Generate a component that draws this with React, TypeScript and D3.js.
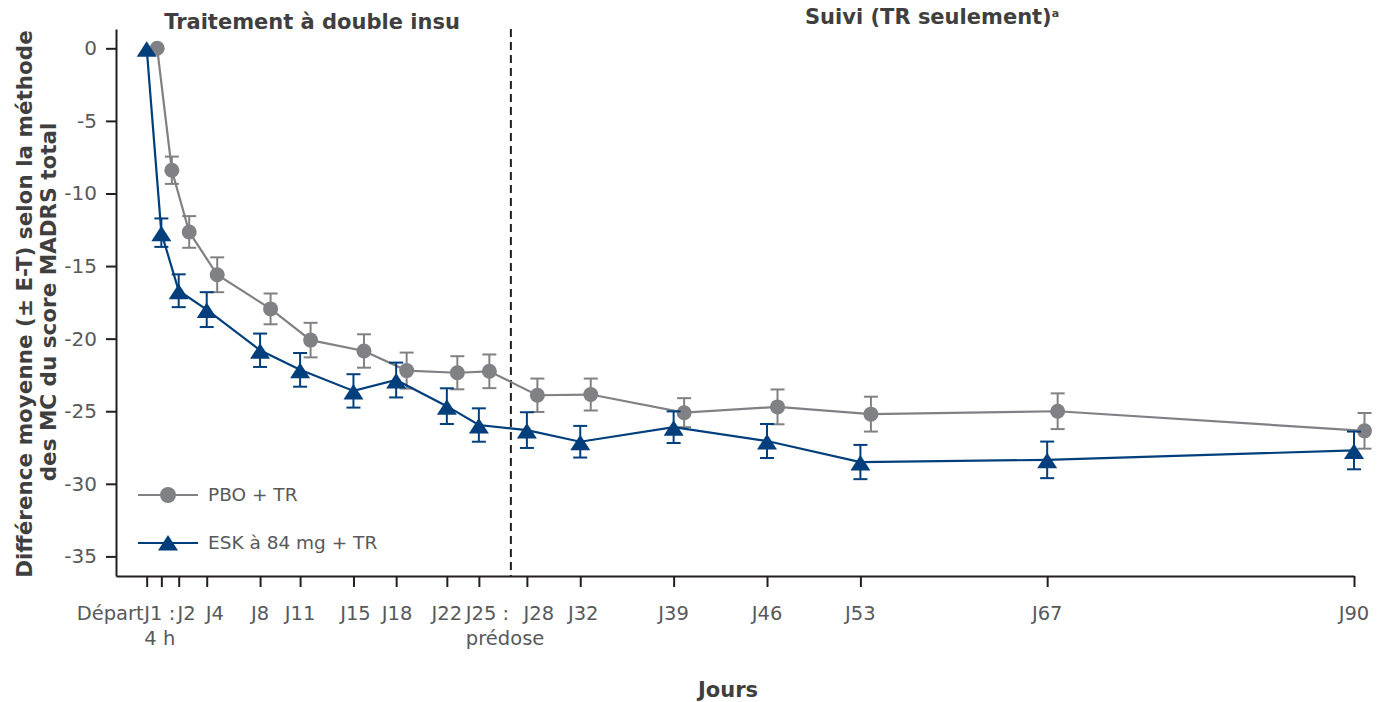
import React, { useEffect, useRef } from "react";
import * as d3 from "d3";

const visits = [
	"Départ",
	"J1 : 4 h",
	"J2",
	"J4",
	"J8",
	"J11",
	"J15",
	"J18",
	"J22",
	"J25 : prédose",
	"J28",
	"J32",
	"J39",
	"J46",
	"J53",
	"J67",
	"J90",
];
// where each visit sits on the day axis
const visitDays = [-0.5, 0.6, 1.9, 4, 8, 11, 15, 18.2, 22, 24.4, 28, 32, 39, 46, 53, 67, 90];

const pboMean = [0, -8.4, -12.65, -15.6, -17.95, -20.1, -20.85, -22.2, -22.35, -22.25, -23.9, -23.85, -25.1, -24.7, -25.2, -25.0, -26.35];
const pboSE = [0, 0.94, 1.09, 1.2, 1.06, 1.19, 1.15, 1.24, 1.14, 1.16, 1.15, 1.1, 1.0, 1.2, 1.2, 1.23, 1.23];
const eskMean = [0, -12.7, -16.7, -18.0, -20.8, -22.15, -23.6, -22.85, -24.65, -25.95, -26.3, -27.1, -26.1, -27.05, -28.5, -28.35, -27.7];
const eskSE = [0, 0.98, 1.13, 1.2, 1.15, 1.16, 1.15, 1.2, 1.23, 1.15, 1.23, 1.09, 1.09, 1.17, 1.18, 1.26, 1.3];

const yTicks = [0, -5, -10, -15, -20, -25, -30, -35];
const followUpStart = 26.8;

const seriesNames = ["PBO + TR", "ESK à 84 mg + TR"];

const GREY = "#808184";
const BLUE = "#003f7c";
const AXIS = "#231f20";
const TICK_TEXT = "#58595b";
const TITLE_TEXT = "#3f3f3f";
const FONT = "'DejaVu Sans', Verdana, sans-serif";

// manual nudges for the crowded x labels
const labelLayout: Record<string, { anchor?: string; dx: number }> = {
	Départ: { anchor: "end", dx: -3 },
	"J1 : 4 h": { anchor: "start", dx: -17 },
	J2: { dx: 8 },
	J4: { dx: 8 },
	J15: { dx: 2 },
	J18: { dx: 1 },
	"J25 : prédose": { anchor: "start", dx: -13 },
	J28: { dx: 12 },
	J32: { dx: 3 },
};

const trianglePath = "M0,-7L10,8.5L-10,8.5Z";

const App = () => {
	const svgRef = useRef<SVGSVGElement>(null);

	useEffect(() => {
		const svg = d3.select(svgRef.current);
		svg.selectAll("*").remove();

		const x = d3.scaleLinear().domain([-2.8, 90]).range([116, 1354]);
		const y = d3.scaleLinear().domain([1.33, -36.35]).range([29, 576]);
		const pboShift = 10.5;

		const rows = visits.map((label, i) => ({
			label,
			day: visitDays[i],
			pbo: pboMean[i],
			pboSe: pboSE[i],
			esk: eskMean[i],
			eskSe: eskSE[i],
		}));

		// y axis
		const yAxis = svg
			.append("g")
			.attr("transform", "translate(116,0)")
			.call(
				d3
					.axisLeft(y)
					.tickValues(yTicks)
					.tickSize(10)
					.tickSizeOuter(0)
					.tickPadding(9)
					.tickFormat((d) => String(d))
			);
		yAxis.select(".domain").attr("stroke", AXIS).attr("stroke-width", 2);
		yAxis.selectAll(".tick line").attr("stroke", AXIS).attr("stroke-width", 2);
		yAxis
			.selectAll(".tick text")
			.attr("fill", TICK_TEXT)
			.style("font-family", FONT)
			.style("font-size", "20px");

		// x axis
		const xAxis = svg
			.append("g")
			.attr("transform", "translate(0,576)")
			.call(
				d3
					.axisBottom(x)
					.tickValues(visitDays)
					.tickSize(11)
					.tickSizeOuter(0)
					.tickFormat(() => "")
			);
		xAxis.select(".domain").attr("stroke", AXIS).attr("stroke-width", 2);
		xAxis.selectAll(".tick line").attr("stroke", AXIS).attr("stroke-width", 2);
		xAxis.selectAll(".tick text").remove();

		const xLabels = svg
			.append("g")
			.style("font-family", FONT)
			.style("font-size", "19.5px")
			.attr("fill", TICK_TEXT);
		rows.forEach((r) => {
			const lay = labelLayout[r.label] || { dx: 0 };
			const lines = r.label.includes(" : ")
				? [r.label.split(" : ")[0] + " :", r.label.split(" : ")[1]]
				: [r.label];
			const t = xLabels
				.append("text")
				.attr("text-anchor", lay.anchor || "middle")
				.attr("x", x(r.day) + lay.dx)
				.attr("y", 620);
			lines.forEach((line, k) => {
				t.append("tspan")
					.attr("x", x(r.day) + lay.dx)
					.attr("dy", k === 0 ? 0 : 25)
					.text(line);
			});
		});

		// dashed separator between phases
		svg
			.append("line")
			.attr("x1", x(followUpStart))
			.attr("x2", x(followUpStart))
			.attr("y1", 29)
			.attr("y2", 576)
			.attr("stroke", AXIS)
			.attr("stroke-width", 2)
			.attr("stroke-dasharray", "8,5");

		// placebo series
		const pboLine = d3
			.line<(typeof rows)[number]>()
			.x((d) => x(d.day) + pboShift)
			.y((d) => y(d.pbo));
		svg
			.append("path")
			.datum(rows)
			.attr("d", pboLine)
			.attr("fill", "none")
			.attr("stroke", GREY)
			.attr("stroke-width", 2.2);

		const drawErrors = (key: "pbo" | "esk", seKey: "pboSe" | "eskSe", shift: number, color: string) => {
			const g = svg.append("g").attr("stroke", color).attr("stroke-width", 2);
			rows
				.filter((d) => d[seKey] > 0)
				.forEach((d) => {
					const cx = x(d.day) + shift;
					const top = y(d[key] + d[seKey]);
					const bot = y(d[key] - d[seKey]);
					g.append("line").attr("x1", cx).attr("x2", cx).attr("y1", top).attr("y2", bot);
					g.append("line").attr("x1", cx - 7).attr("x2", cx + 7).attr("y1", top).attr("y2", top);
					g.append("line").attr("x1", cx - 7).attr("x2", cx + 7).attr("y1", bot).attr("y2", bot);
				});
		};

		drawErrors("pbo", "pboSe", pboShift, GREY);

		svg
			.append("g")
			.selectAll("circle")
			.data(rows)
			.enter()
			.append("circle")
			.attr("cx", (d) => x(d.day) + pboShift)
			.attr("cy", (d) => y(d.pbo))
			.attr("r", 7.5)
			.attr("fill", GREY);

		// esketamine series
		const eskLine = d3
			.line<(typeof rows)[number]>()
			.x((d) => x(d.day))
			.y((d) => y(d.esk));
		svg
			.append("path")
			.datum(rows)
			.attr("d", eskLine)
			.attr("fill", "none")
			.attr("stroke", BLUE)
			.attr("stroke-width", 2.2);

		drawErrors("esk", "eskSe", 0, BLUE);

		svg
			.append("g")
			.selectAll("path")
			.data(rows)
			.enter()
			.append("path")
			.attr("transform", (d) => `translate(${x(d.day)},${y(d.esk)})`)
			.attr("d", trianglePath)
			.attr("fill", BLUE);

		// legend
		const legend = svg.append("g").style("font-family", FONT).style("font-size", "18.5px");
		[
			{ name: seriesNames[0], color: GREY, yPos: 495, marker: "circle" },
			{ name: seriesNames[1], color: BLUE, yPos: 543, marker: "triangle" },
		].forEach((item) => {
			legend
				.append("line")
				.attr("x1", 138)
				.attr("x2", 198)
				.attr("y1", item.yPos)
				.attr("y2", item.yPos)
				.attr("stroke", item.color)
				.attr("stroke-width", 2.2);
			if (item.marker === "circle") {
				legend.append("circle").attr("cx", 168).attr("cy", item.yPos).attr("r", 8).attr("fill", item.color);
			} else {
				legend
					.append("path")
					.attr("transform", `translate(168,${item.yPos - 1})`)
					.attr("d", trianglePath)
					.attr("fill", item.color);
			}
			legend
				.append("text")
				.attr("x", 208)
				.attr("y", item.yPos)
				.attr("dy", "0.35em")
				.attr("fill", TICK_TEXT)
				.text(item.name);
		});

		// titles
		const titles = svg
			.append("g")
			.style("font-family", FONT)
			.style("font-size", "21px")
			.style("font-weight", "bold")
			.attr("fill", TITLE_TEXT);

		titles.append("text").attr("x", 312).attr("y", 29).attr("text-anchor", "middle").text("Traitement à double insu");

		const suivi = titles.append("text").attr("x", 805).attr("y", 24);
		suivi.append("tspan").text("Suivi (TR seulement)");
		suivi.append("tspan").attr("dy", -7).style("font-size", "11px").text("a");

		titles.append("text").attr("x", 728).attr("y", 697).attr("text-anchor", "middle").text("Jours");

		titles
			.append("text")
			.attr("transform", "translate(32,304) rotate(-90)")
			.attr("text-anchor", "middle")
			.style("font-size", "21.5px")
			.text("Différence moyenne (± E-T) selon la méthode");
		titles
			.append("text")
			.attr("transform", "translate(56,302) rotate(-90)")
			.attr("text-anchor", "middle")
			.style("font-size", "21.5px")
			.text("des MC du score MADRS total");
	}, []);

	return (
		<svg
			ref={svgRef}
			width={1389}
			height={702}
			style={{ position: "absolute", left: 0, top: 0, background: "#fff" }}
		/>
	);
};

export default App;
